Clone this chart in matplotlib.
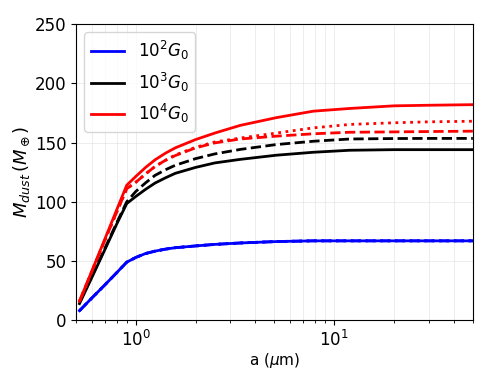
import matplotlib
matplotlib.use("Agg")
import matplotlib.pyplot as plt

a_vals = [0.52, 0.6, 0.7, 0.8, 0.9, 1.0, 1.12, 1.25, 1.41, 1.58, 2.0, 2.5,
          3.36, 5.1, 7.85, 12.0, 20.0, 30.0, 50.0]

blue_solid = [8, 18.7, 30, 40, 49, 53, 56.3, 58.3, 60, 61.2, 62.7, 64,
              65.2, 66.4, 67, 67, 67, 67, 67]
black_solid = [14, 36, 60, 81, 98.5, 104.5, 110.5, 115.8, 120.2, 124, 129, 132.8,
               135.8, 139.3, 141.8, 143.5, 144, 144, 144]
black_dashed = [15, 37, 61, 82, 100, 108.7, 116, 122.3, 127, 130.8, 136.4, 140.4,
                144.2, 148.3, 151.1, 153, 153.4, 153.5, 153.5]
red_solid = [16, 41.5, 69, 93, 114, 121.4, 129, 135.4, 141, 145.5, 152.5, 158,
             164.5, 171, 176.5, 178.8, 181, 181.5, 182]
red_dashed = [16, 41, 68, 91, 111, 116.5, 123.5, 129.8, 135, 139, 145.5, 149.7,
              153, 155.4, 157.4, 158.7, 159, 159.3, 159.6]
red_dotted = [16, 41, 68, 91, 111, 116.5, 123.5, 129.8, 135, 139.5, 146, 150.5,
              153.8, 158, 162.4, 165.3, 166.7, 167.5, 168]

legend_labels = [r"$10^2G_0$", r"$10^3G_0$", r"$10^4G_0$"]

fig = plt.figure(figsize=(4.91, 3.83), dpi=100)
ax = fig.add_axes([0.155, 0.164, 0.808, 0.773])

lb, = ax.plot(a_vals, blue_solid, color="blue", lw=2, ls="-")
ax.plot(a_vals, blue_solid, color="blue", lw=2, ls="--")
ax.plot(a_vals, blue_solid, color="blue", lw=2, ls=":")
lk, = ax.plot(a_vals, black_solid, color="black", lw=2, ls="-")
ax.plot(a_vals, black_dashed, color="black", lw=2, ls="--")
lr, = ax.plot(a_vals, red_solid, color="red", lw=2, ls="-")
ax.plot(a_vals, red_dashed, color="red", lw=2, ls="--")
ax.plot(a_vals, red_dotted, color="red", lw=2, ls=":")

ax.set_xscale("log")
ax.set_xlim(0.5, 50)
ax.set_ylim(0, 250)
ax.set_yticks([0, 50, 100, 150, 200, 250])
ax.grid(True, which="both", color="#dddddd", lw=0.6, alpha=0.6)
ax.tick_params(labelsize=12)
ax.set_xlabel(r"a ($\mu$m)", fontsize=11, labelpad=1)
ax.set_ylabel(r"$M_{dust}\,(M_\oplus)$", fontsize=13, labelpad=2)

ax.legend([lb, lk, lr], legend_labels, loc="upper left", fontsize=12,
          handlelength=2.0)

fig.savefig("out.png", dpi=100)
